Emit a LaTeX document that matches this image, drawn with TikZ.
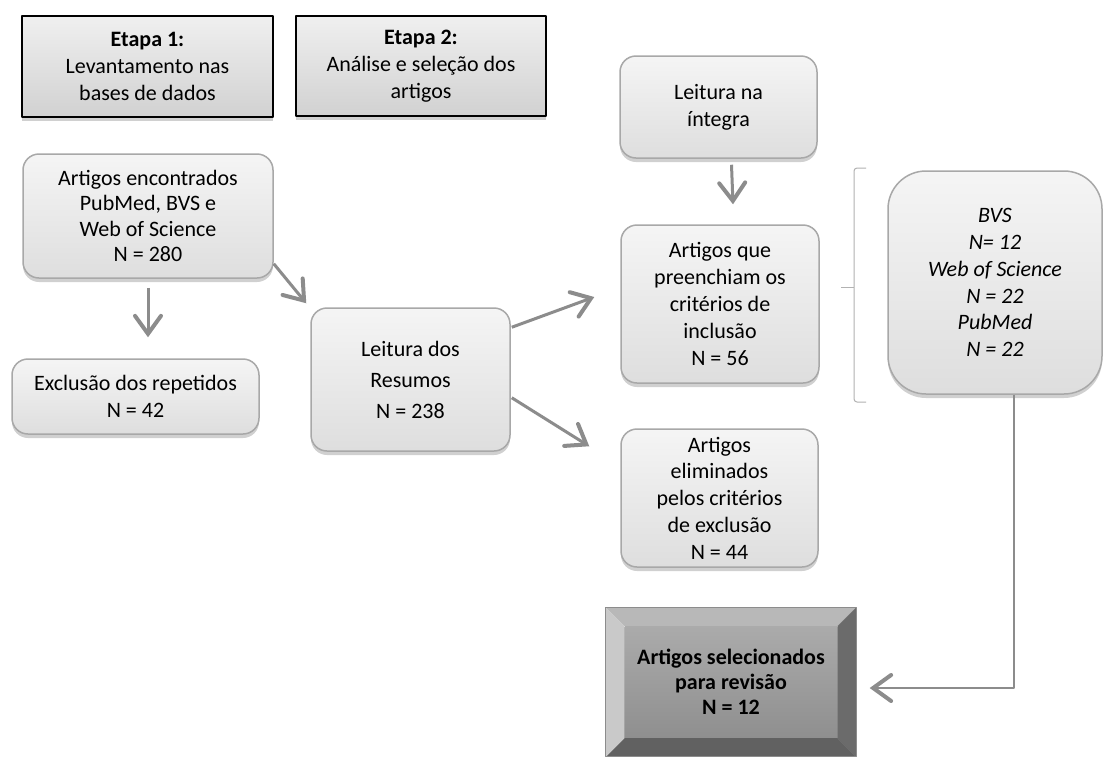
\documentclass[tikz,border=0pt]{standalone}
\usepackage{fontspec}
\setmainfont{Carlito}
\usetikzlibrary{arrows.meta,shadows,calc}
\definecolor{cinzaseta}{HTML}{8C8C8C}
\definecolor{borda}{HTML}{A8A8A8}
\tikzset{
	texto/.style={font=\fontsize{22pt}{26.8pt}\selectfont, align=center, inner sep=0pt},
	caixa/.style={texto, rounded corners=16pt, draw=borda, line width=1.5pt, top color=white!96!black, bottom color=black!13, drop shadow={shadow xshift=0pt, shadow yshift=-4pt, opacity=.3, fill=black!60}},
	etapa/.style={texto, draw=black, line width=2pt, top color=black!6, bottom color=black!18, drop shadow={shadow xshift=0pt, shadow yshift=-4pt, opacity=.3, fill=black!60}},
	seta/.style={draw=cinzaseta, line width=3pt, -{Straight Barb[length=18pt, width=26pt, line width=4pt, line cap=round]}},
	chave/.style={draw=black!30, line width=1pt, rounded corners=3pt}
}
\begin{document}
\begin{tikzpicture}[x=1pt, y=-1pt, line join=round]
	\useasboundingbox[fill=white] (0,0) rectangle (1110,756);
	% etapas
	\node[etapa, minimum width=251pt, minimum height=101pt] (et1) at (147.5,66.5) {\textbf{Etapa 1:}\\Levantamento nas\\bases de dados};
	\node[etapa, minimum width=250pt, minimum height=100pt] (et2) at (421,66) {\textbf{Etapa 2:}\\Análise e seleção dos\\artigos};
	% caixas
	\node[caixa, minimum width=250pt, minimum height=124pt, font=\fontsize{22pt}{25.6pt}\selectfont] (enc) at (148,216) {Artigos encontrados\\PubMed, BVS e\\Web of Science\\N = 280};
	\node[caixa, minimum width=247pt, minimum height=75pt] (exc) at (135.5,396.5) {Exclusão dos repetidos\\N = 42};
	\node[caixa, minimum width=199pt, minimum height=143pt, font=\fontsize{22pt}{31pt}\selectfont] (res) at (410.5,379.5) {Leitura dos\\Resumos\\N = 238};
	\node[caixa, minimum width=197pt, minimum height=102pt] (int) at (718.5,107) {Leitura na\\íntegra};
	\node[caixa, minimum width=198pt, minimum height=158pt] (pre) at (720,304) {Artigos que\\preenchiam os\\critérios de\\inclusão\\N = 56};
	\node[caixa, minimum width=197pt, minimum height=138pt] (eli) at (719.5,498) {Artigos\\eliminados\\pelos critérios\\de exclusão\\N = 44};
	\node[caixa, rounded corners=38pt, minimum width=214pt, minimum height=223pt] (bvs) at (995,282.5) {\itshape BVS\\\itshape N= 12\\\itshape Web of Science\\\itshape N = 22\\\itshape PubMed\\\itshape N = 22};
	% caixa final em relevo
	\node[texto, font=\fontsize{22pt}{25pt}\selectfont\bfseries, minimum width=213pt, minimum height=112pt, top color=black!33, bottom color=black!44] (sel) at (731,682) {Artigos selecionados\\para revisão\\N = 12};
	\coordinate (a1) at ($(sel.north west)+(-18.5,-18.5)$);
	\coordinate (a2) at ($(sel.north east)+(18.5,-18.5)$);
	\coordinate (a3) at ($(sel.south east)+(18.5,18.5)$);
	\coordinate (a4) at ($(sel.south west)+(-18.5,18.5)$);
	\fill[black!28] (a1) -- (a2) -- (sel.north east) -- (sel.north west) -- cycle;
	\fill[black!58] (a2) -- (a3) -- (sel.south east) -- (sel.north east) -- cycle;
	\fill[black!62] (a3) -- (a4) -- (sel.south west) -- (sel.south east) -- cycle;
	\fill[black!21] (a4) -- (a1) -- (sel.north west) -- (sel.south west) -- cycle;
	\draw[black!45, line width=.8pt] (a1) rectangle (a3);
	% setas
	\draw[seta] ($(enc.south)+(0,9)$) -- ($(enc.south |- exc.north)+(0,-21)$);
	\draw[seta] ($(enc.south east)+(0,-15)$) -- ($(res.north west)+(-4,-4)$);
	\draw[seta] ($(res.north east)+(1,20)$) -- ($(pre.west)+(-26,-7)$);
	\draw[seta] ($(res.south east)+(1,-54)$) -- ($(eli.north west)+(-31,18)$);
	\draw[seta] ($(int.south)+(13,6)$) -- ($(pre.north)+(13,-20)$);
	\draw[draw=cinzaseta, line width=1.5pt, -{Straight Barb[length=18pt, width=26pt, line width=4pt, line cap=round]}] ($(bvs.south)+(19,0)$) |- ($(sel.east)+(32,6)$);
	% chave
	\draw[chave] (866,168) -- (854,168) -- (854,402) -- (866,402);
	\draw[chave] (841,287) -- (854,287);
\end{tikzpicture}
\end{document}
